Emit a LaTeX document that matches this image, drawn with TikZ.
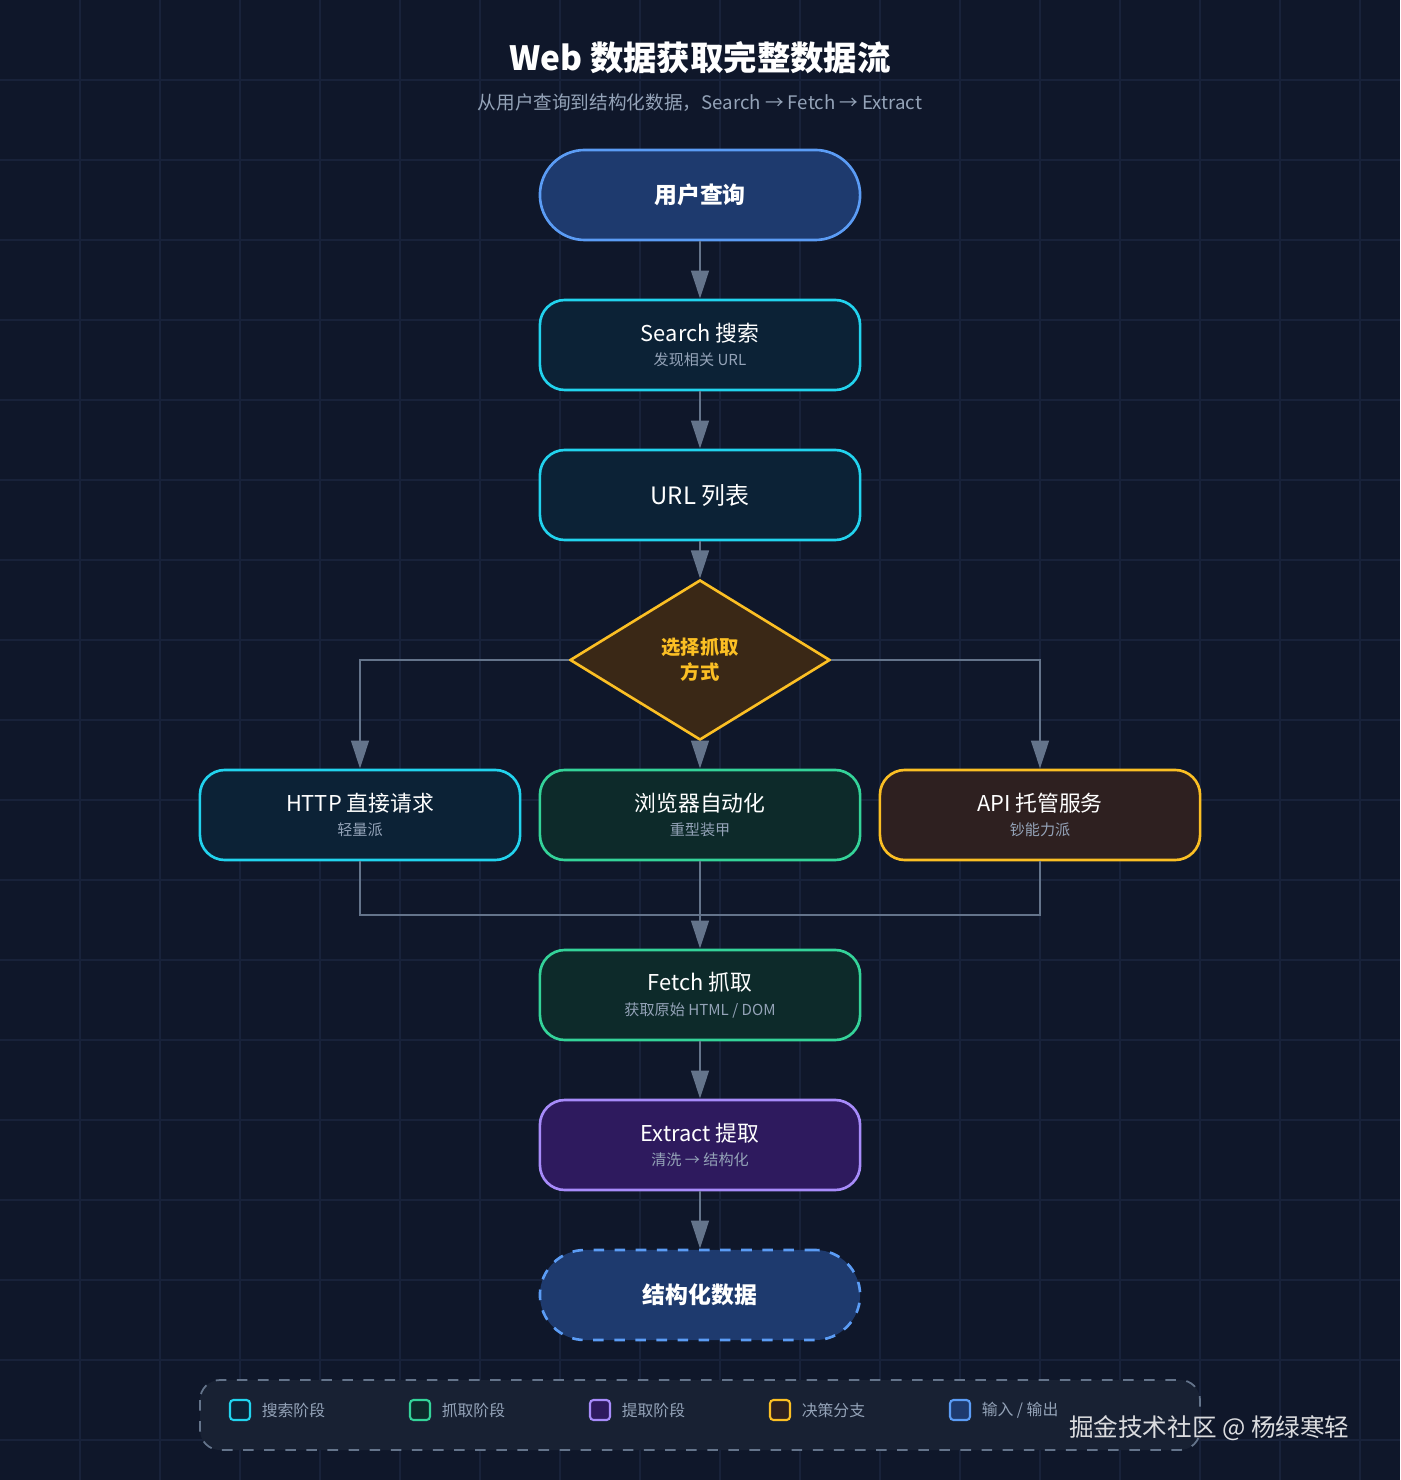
\documentclass[tikz,border=0pt]{standalone}
\usepackage{fontspec}
\setmainfont{Noto Sans CJK SC}
\usetikzlibrary{shapes.geometric, arrows.meta, positioning}
\definecolor{bgc}{HTML}{0F172A}
\definecolor{gridc}{HTML}{18223A}
\definecolor{linec}{HTML}{64748B}
\definecolor{subc}{HTML}{94A3B8}
\definecolor{blueb}{HTML}{5B9CF5}\definecolor{bluef}{HTML}{1E3A6E}
\definecolor{cyanb}{HTML}{22D3EE}\definecolor{cyanf}{HTML}{0C2236}
\definecolor{greenb}{HTML}{34D399}\definecolor{greenf}{HTML}{0D2A2A}
\definecolor{purpb}{HTML}{A78BFA}\definecolor{purpf}{HTML}{2E1A5E}
\definecolor{ambb}{HTML}{FBBF24}\definecolor{ambf}{HTML}{2E2020}
\definecolor{diaf}{HTML}{3A2816}
\definecolor{legf}{HTML}{182133}
\tikzset{
  box/.style={draw, rounded corners=2.5mm, line width=0.75pt, minimum width=3.2cm, minimum height=0.9cm, align=center, text=white, font=\fontsize{6.2}{8}\selectfont},
  term/.style={box, rounded corners=4.5mm},
  flow/.style={draw=linec, line width=0.8pt, -{Triangle[width=5pt, length=8pt]}},
  legbox/.style={draw, line width=0.6pt, rounded corners=1pt, minimum size=0.2cm, inner sep=0pt},
  legtxt/.style={right=0.1cm, font=\fontsize{4.5}{5}\selectfont, text=subc, inner sep=0pt}
}
\newcommand{\two}[2]{#1\\[-1pt]{\fontsize{4.3}{5}\selectfont\color{subc}#2}}
\begin{document}
\begin{tikzpicture}[x=0.01cm, y=-0.01cm]
  % background and grid
  \fill[bgc] (0,0) rectangle (1400,1480);
  \useasboundingbox (0,0) rectangle (1400,1480);
  \foreach \g in {80,160,...,1400} \draw[gridc, line width=0.4pt] (\g,0) -- (\g,1480);
  \foreach \g in {80,160,...,1440} \draw[gridc, line width=0.4pt] (0,\g) -- (1400,\g);

  % title
  \node[text=white, font=\bfseries\fontsize{9.5}{11}\selectfont] (title) at (700,58) {Web 数据获取完整数据流};
  \node[text=subc, font=\fontsize{5.3}{6}\selectfont] (subtitle) at (700,103) {从用户查询到结构化数据，Search → Fetch → Extract};

  % nodes
  \node[term, draw=blueb, fill=bluef, font=\bfseries\fontsize{6.5}{8}\selectfont] (query) at (700,195) {用户查询};
  \node[box, draw=cyanb, fill=cyanf] (search) at (700,345) {\two{Search 搜索}{发现相关 URL}};
  \node[box, draw=cyanb, fill=cyanf, font=\fontsize{6.8}{8}\selectfont] (urls) at (700,495) {URL 列表};
  \node[diamond, draw=ambb, fill=diaf, line width=0.75pt, minimum width=2.6cm, minimum height=1.6cm, inner sep=0pt, text=ambb, align=center, font=\bfseries\fontsize{5.5}{7}\selectfont] (choose) at (700,660) {选择抓取\\方式};
  \node[box, draw=cyanb, fill=cyanf] (http) at (360,815) {\two{HTTP 直接请求}{轻量派}};
  \node[box, draw=greenb, fill=greenf] (browser) at (700,815) {\two{浏览器自动化}{重型装甲}};
  \node[box, draw=ambb, fill=ambf] (api) at (1040,815) {\two{API 托管服务}{钞能力派}};
  \node[box, draw=greenb, fill=greenf] (fetch) at (700,995) {\two{Fetch 抓取}{获取原始 HTML / DOM}};
  \node[box, draw=purpb, fill=purpf] (extract) at (700,1145) {\two{Extract 提取}{清洗 → 结构化}};
  \node[term, draw=blueb, fill=bluef, dashed, font=\bfseries\fontsize{6.5}{8}\selectfont] (result) at (700,1295) {结构化数据};
  \coordinate (join) at (700,915);

  % connectors
  \draw[flow] (query) -- (search);
  \draw[flow] (search) -- (urls);
  \draw[flow] (urls) -- (choose.north);
  \draw[flow] (choose.west) -| (http);
  \draw[flow] (choose.east) -| (api);
  \draw[flow] (choose) -- (browser);
  \draw[draw=linec, line width=0.8pt] (http) |- (join) -| (api);
  \draw[flow] (browser) -- (fetch);
  \draw[flow] (fetch) -- (extract);
  \draw[flow] (extract) -- (result);

  % legend
  \draw[linec, fill=legf, dashed, line width=0.5pt, rounded corners=2mm] (200,1380) rectangle (1200,1450);
  \node[legbox, draw=cyanb, fill=cyanf] (l1) at (240,1410) {};
  \node[legtxt] at (l1.east) {搜索阶段};
  \node[legbox, draw=greenb, fill=greenf] (l2) at (420,1410) {};
  \node[legtxt] at (l2.east) {抓取阶段};
  \node[legbox, draw=purpb, fill=purpf] (l3) at (600,1410) {};
  \node[legtxt] at (l3.east) {提取阶段};
  \node[legbox, draw=ambb, fill=ambf] (l4) at (780,1410) {};
  \node[legtxt] at (l4.east) {决策分支};
  \node[legbox, draw=blueb, fill=bluef] (l5) at (960,1410) {};
  \node[legtxt] at (l5.east) {输入 / 输出};

  % watermark
  \node[text=white!85!bgc, font=\fontsize{7}{8}\selectfont, anchor=east] (mark) at (1362,1428) {掘金技术社区 @ 杨绿寒轻};
\end{tikzpicture}
\end{document}
